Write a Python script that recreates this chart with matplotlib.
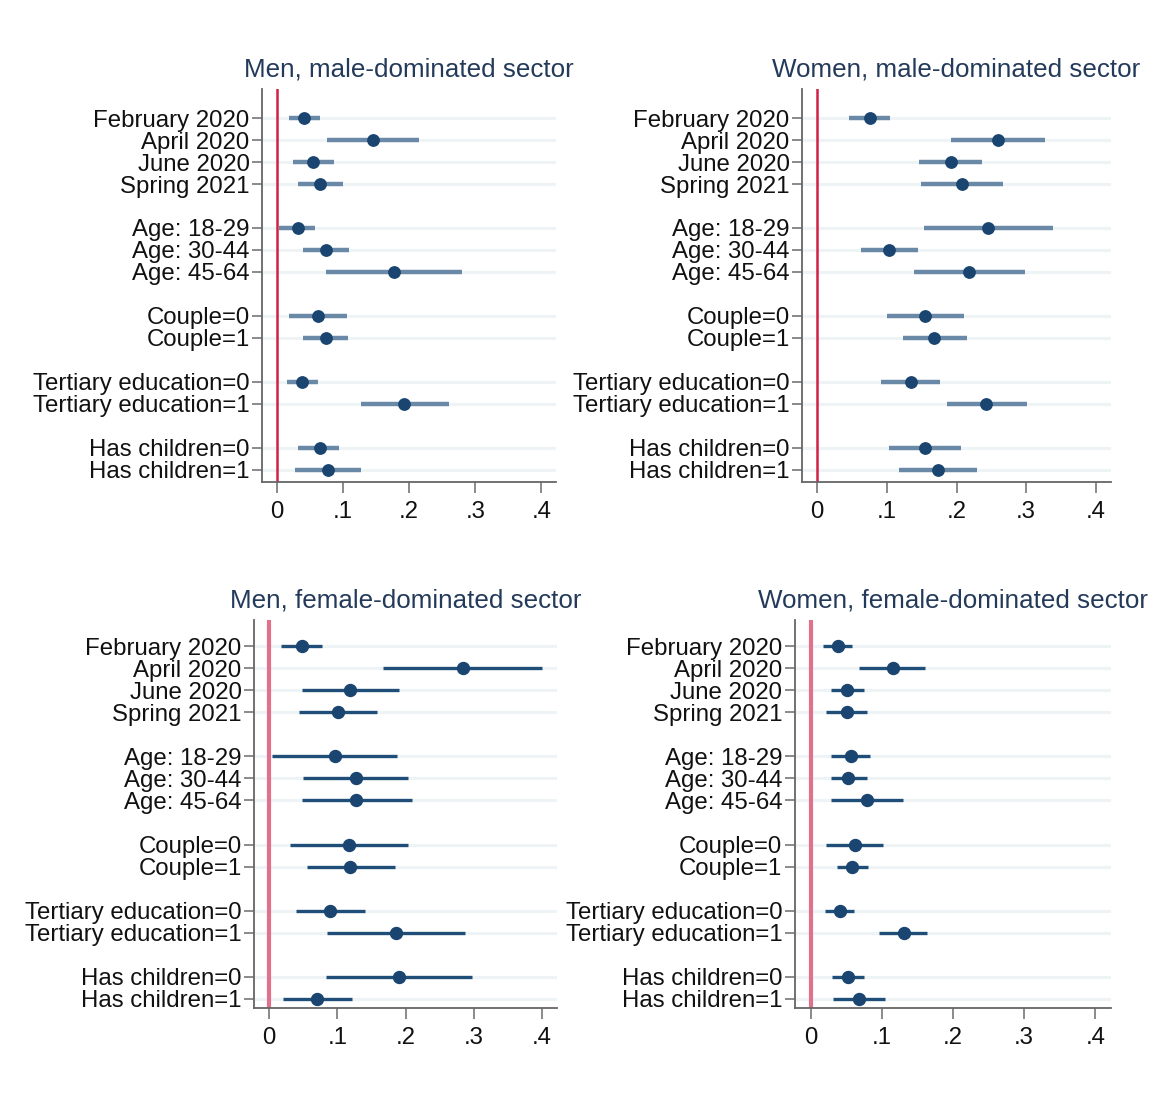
import numpy as np
import matplotlib
matplotlib.use('Agg')
import matplotlib.pyplot as plt

plt.rcParams['font.family'] = ['Liberation Sans', 'DejaVu Sans']

## row labels and their positions (blank row between groups)
labels = ['February 2020', 'April 2020', 'June 2020', 'Spring 2021',
          'Age: 18-29', 'Age: 30-44', 'Age: 45-64',
          'Couple=0', 'Couple=1',
          'Tertiary education=0', 'Tertiary education=1',
          'Has children=0', 'Has children=1']
rows = [0, 1, 2, 3, 5, 6, 7, 9, 10, 12, 13, 15, 16]
xticks = [0, 0.1, 0.2, 0.3, 0.4]
xticklabels = ['0', '.1', '.2', '.3', '.4']

# Men, male-dominated sector
mm_est = [0.042, 0.145, 0.055, 0.066, 0.032, 0.075, 0.177, 0.063, 0.075, 0.039, 0.193, 0.065, 0.077]
mm_lo  = [0.019, 0.076, 0.025, 0.032, 0.004, 0.040, 0.075, 0.019, 0.040, 0.015, 0.127, 0.033, 0.028]
mm_hi  = [0.065, 0.215, 0.086, 0.101, 0.058, 0.110, 0.280, 0.106, 0.108, 0.063, 0.260, 0.095, 0.127]

# Women, male-dominated sector
wm_est = [0.075, 0.259, 0.192, 0.208, 0.245, 0.103, 0.218, 0.155, 0.168, 0.134, 0.243, 0.155, 0.173]
wm_lo  = [0.045, 0.192, 0.146, 0.149, 0.154, 0.063, 0.139, 0.100, 0.123, 0.091, 0.186, 0.103, 0.117]
wm_hi  = [0.105, 0.327, 0.237, 0.267, 0.338, 0.144, 0.298, 0.211, 0.215, 0.177, 0.301, 0.206, 0.229]

# Men, female-dominated sector
mf_est = [0.048, 0.284, 0.119, 0.101, 0.097, 0.127, 0.128, 0.117, 0.119, 0.090, 0.186, 0.191, 0.070]
mf_lo  = [0.017, 0.167, 0.049, 0.044, 0.004, 0.050, 0.049, 0.031, 0.056, 0.039, 0.085, 0.084, 0.020]
mf_hi  = [0.077, 0.400, 0.191, 0.158, 0.188, 0.204, 0.209, 0.204, 0.184, 0.141, 0.287, 0.297, 0.122]

# Women, female-dominated sector
wf_est = [0.038, 0.115, 0.051, 0.051, 0.057, 0.053, 0.079, 0.062, 0.058, 0.041, 0.131, 0.052, 0.068]
wf_lo  = [0.017, 0.068, 0.028, 0.021, 0.029, 0.029, 0.029, 0.021, 0.037, 0.020, 0.096, 0.030, 0.032]
wf_hi  = [0.058, 0.161, 0.075, 0.079, 0.084, 0.079, 0.130, 0.101, 0.080, 0.061, 0.164, 0.075, 0.104]

W, H = 1160, 1095
fig = plt.figure(figsize=(W/100, H/100), dpi=100)

def px_axes(left, top, right, bottom):
    return fig.add_axes([left/W, 1-bottom/H, (right-left)/W, (bottom-top)/H])

# title, est, lo, hi, box (px), ci colour, ci width, ref colour, ref width, ylim, marker size
panels = [
    ('Men, male-dominated sector',     mm_est, mm_lo, mm_hi, (262, 89, 556, 482),   '#6a89a6', 3.2, '#d21f45', 1.8, (16.55, -1.32), 8.2),
    ('Women, male-dominated sector',   wm_est, wm_lo, wm_hi, (802, 89, 1111, 482),  '#6a89a6', 3.2, '#d21f45', 1.8, (16.55, -1.32), 8.2),
    ('Men, female-dominated sector',   mf_est, mf_lo, mf_hi, (254, 620, 557, 1008), '#1f4e79', 2.4, '#e2708c', 3.0, (16.41, -1.18), 8.6),
    ('Women, female-dominated sector', wf_est, wf_lo, wf_hi, (795, 620, 1111, 1008),'#1f4e79', 2.4, '#e2708c', 3.0, (16.41, -1.18), 8.6),
]

for title, est, lo, hi, box, cicol, ciw, refcol, refw, ylim, ms in panels:
    ax = px_axes(*box)
    for r in rows:
        ax.axhline(r, color='#eef4f5', lw=2.2, zorder=0)
    ax.axvline(0, color=refcol, lw=refw, zorder=1)
    ax.hlines(rows, lo, hi, color=cicol, lw=ciw, zorder=2)
    ax.plot(est, rows, 'o', color='#1a4570', ms=ms, zorder=3)
    ax.set_ylim(*ylim)
    ax.set_xlim(-0.022, 0.422)
    ax.set_yticks(rows)
    ax.set_yticklabels(labels, fontsize=17.3, color='#111111')
    ax.set_xticks(xticks)
    ax.set_xticklabels(xticklabels, fontsize=17.3, color='#111111')
    ax.tick_params(axis='y', length=7, width=1.2, color='#777777', pad=2)
    ax.tick_params(axis='x', length=8, width=1.2, color='#777777', pad=6)
    for side in ['top', 'right']:
        ax.spines[side].set_visible(False)
    for side in ['left', 'bottom']:
        ax.spines[side].set_color('#666666')
        ax.spines[side].set_linewidth(1.3)
    ax.set_title(title, fontsize=18.7, color='#243a5a', pad=9)

fig.savefig('out.png', dpi=100)
